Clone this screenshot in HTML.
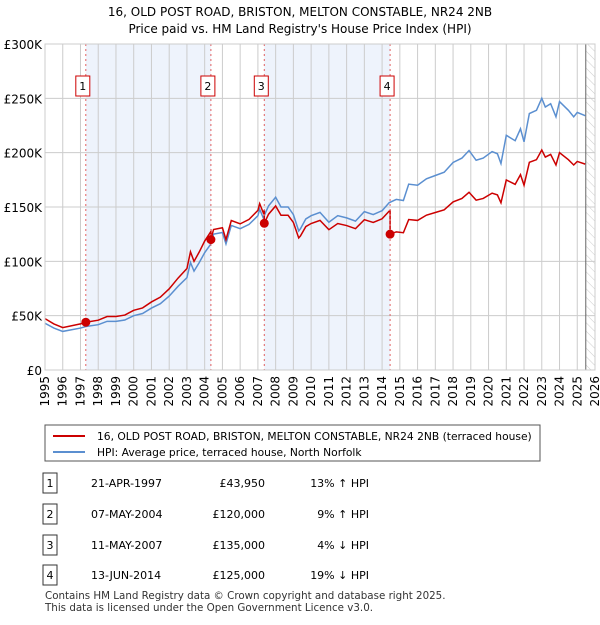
<!DOCTYPE html>
<html><head><meta charset="utf-8"><style>
body{margin:0;background:#fff;font-family:"Liberation Sans","DejaVu Sans",sans-serif;}
svg text{font-family:"DejaVu Sans","Liberation Sans",sans-serif;}
</style></head><body>
<svg width="600" height="620" xmlns="http://www.w3.org/2000/svg" id="chart">
<defs><pattern id="hatch" width="6" height="6" patternUnits="userSpaceOnUse" patternTransform="rotate(-45)"><line x1="0" y1="0" x2="0" y2="6" stroke="#ccc" stroke-width="1"/></pattern></defs>
<text x="300" y="16" text-anchor="middle" font-size="12">16, OLD POST ROAD, BRISTON, MELTON CONSTABLE, NR24 2NB</text>
<text x="300" y="33" text-anchor="middle" font-size="12">Price paid vs. HM Land Registry's House Price Index (HPI)</text>
<g id="plot"></g>
<g>
<rect x="45" y="425" width="495" height="36" fill="#fff" stroke="#555"/>
<line x1="53" y1="436" x2="85" y2="436" stroke="#cc0000" stroke-width="2"/>
<text x="97" y="440" font-size="10.7">16, OLD POST ROAD, BRISTON, MELTON CONSTABLE, NR24 2NB (terraced house)</text>
<line x1="53" y1="452" x2="85" y2="452" stroke="#5b8fd0" stroke-width="2"/>
<text x="97" y="456" font-size="10.7">HPI: Average price, terraced house, North Norfolk</text>
</g>
<g id="table" font-size="11"></g>
<text x="45" y="599" font-size="10.3" fill="#333">Contains HM Land Registry data © Crown copyright and database right 2025.</text>
<text x="45" y="611" font-size="10.3" fill="#333">This data is licensed under the Open Government Licence v3.0.</text>
</svg>
<script>
const hpiYears=[1995,1995.5,1996,1997,1997.3,1998,1998.5,1999,1999.5,2000,2000.5,2001,2001.5,2002,2002.5,2003,2003.2,2003.4,2003.7,2004,2004.35,2004.5,2005,2005.2,2005.5,2006,2006.5,2007,2007.1,2007.3,2007.6,2008,2008.3,2008.7,2009,2009.3,2009.4,2009.7,2010,2010.5,2011,2011.5,2012,2012.5,2013,2013.5,2014,2014.4,2014.8,2015.2,2015.5,2016,2016.5,2017,2017.5,2018,2018.5,2018.9,2019.3,2019.7,2020.2,2020.5,2020.7,2021,2021.5,2021.8,2022,2022.3,2022.7,2023,2023.2,2023.5,2023.8,2024,2024.5,2024.8,2025,2025.45];
const hpiValues=[43,38.6,35.5,38.6,40,41.7,44.8,44.8,46,50,52,57,61,68,77,85,99,91,99,108,116,125,126.5,116,133,130,134,142,148,140,151,159,150,150,143,128,130,139,142,145,136,142,140,137,145.7,143,146.6,154,157,156,171,170,176,179,182,191,195,202,193,195,201,199,190,216,211,222,210,236,239,250,242,245,233,247,239,233,237,234];
const saleLabels=["1","2","3","4"];
const saleYears=[1997.30,2004.35,2007.36,2014.45];
const salePrices=[43950,120000,135000,125000];
const saleDates=["21-APR-1997","07-MAY-2004","11-MAY-2007","13-JUN-2014"];
const saleDiffs=["13% \u2191 HPI","9% \u2191 HPI","4% \u2193 HPI","19% \u2193 HPI"];
const yTicks=[0,50,100,150,200,250,300];
const yTickLabels=["£0","£50K","£100K","£150K","£200K","£250K","£300K"];
const xTicks=[];for(let y=1995;y<=2026;y++)xTicks.push(y);
const dataEnd=2025.48;
const X0=45,X1=595,Y0=370,Y1=44;
const xs=y=>X0+(y-1995)/(2026-1995)*(X1-X0);
const ys=v=>Y0-v/300*(Y0-Y1);
const NS="http://www.w3.org/2000/svg";
const plot=document.getElementById('plot');
function mk(tag,attrs,parent){const e=document.createElementNS(NS,tag);for(const k in attrs)e.setAttribute(k,attrs[k]);(parent||plot).appendChild(e);return e;}
function interp(y){for(let i=0;i<hpiYears.length-1;i++){if(y>=hpiYears[i]&&y<=hpiYears[i+1]){const t=(y-hpiYears[i])/(hpiYears[i+1]-hpiYears[i]);return hpiValues[i]+t*(hpiValues[i+1]-hpiValues[i]);}}return hpiValues[hpiValues.length-1];}
for(let i=0;i<saleYears.length;i+=2){const r=mk('rect',{x:xs(saleYears[i]),y:Y1,width:xs(saleYears[i+1])-xs(saleYears[i]),height:Y0-Y1,fill:'#eef3fc'});

}
const hr=mk('rect',{x:xs(dataEnd),y:Y1,width:X1-xs(dataEnd),height:Y0-Y1,fill:'url(#hatch)'});


xTicks.forEach(t=>{const l=mk('line',{x1:xs(t),x2:xs(t),y1:Y1,y2:Y0,stroke:'#ccc'});


const tx=mk('text',{x:0,y:0,'font-size':12,'text-anchor':'end',transform:`translate(${xs(t)+4},${Y0+6}) rotate(-90)`});tx.textContent=t;

});
yTicks.forEach((t,i)=>{const l=mk('line',{x1:X0,x2:X1,y1:ys(t),y2:ys(t),stroke:'#ccc'});


const tx=mk('text',{x:X0-3,y:ys(t)+5,'font-size':12,'text-anchor':'end'});tx.textContent=yTickLabels[i];

});
const el=mk('line',{x1:xs(dataEnd),x2:xs(dataEnd),y1:Y1,y2:Y0,stroke:'#666'});


const hp=mk('polyline',{points:hpiYears.map((y,i)=>xs(y)+','+ys(hpiValues[i])).join(' '),fill:'none',stroke:'#5b8fd0','stroke-width':1.5});


const ratios=saleYears.map((y,i)=>salePrices[i]/1000/interp(y));
const redPts=[];
const allYears=hpiYears.concat(saleYears).sort((a,b)=>a-b);
allYears.forEach(y=>{let k=0;for(let i=0;i<saleYears.length;i++)if(y>=saleYears[i])k=i;
 if(saleYears.includes(y)&&k>0){redPts.push([y,interp(y)*ratios[k-1]]);}
 redPts.push([y,interp(y)*ratios[k]]);});
const rp=mk('polyline',{points:redPts.map(p=>xs(p[0])+','+ys(p[1])).join(' '),fill:'none',stroke:'#cc0000','stroke-width':1.5});


saleYears.forEach((y,i)=>{const l=mk('line',{x1:xs(y),x2:xs(y),y1:Y1,y2:Y0,stroke:'#e06060','stroke-dasharray':'2,3'});


const c=mk('circle',{cx:xs(y),cy:ys(salePrices[i]/1000),r:4.5,fill:'#cc0000'});


const b=mk('rect',{x:xs(y)-10,y:76,width:14,height:20,fill:'#fff',stroke:'#cc0000'});


const t=mk('text',{x:xs(y)-3,y:90,'font-size':11,'text-anchor':'middle'});t.textContent=saleLabels[i];

});
const ax=mk('rect',{x:X0,y:Y1,width:X1-X0,height:Y0-Y1,fill:'none',stroke:'#ccc'});


const tb=document.getElementById('table');
const rowY=[483,514,545,575];
saleLabels.forEach((s,i)=>{const y=rowY[i];
const b=mk('rect',{x:43,y:y-10,width:14,height:20,fill:'#fff',stroke:'#333'},tb);


const t0=mk('text',{x:50,y:y+4,'text-anchor':'middle'},tb);t0.textContent=s;


const t1=mk('text',{x:91,y:y+4},tb);t1.textContent=saleDates[i];


const t2=mk('text',{x:265,y:y+4,'text-anchor':'end'},tb);t2.textContent='£'+salePrices[i].toLocaleString('en-GB');


const t3=mk('text',{x:369,y:y+4,'text-anchor':'end'},tb);t3.textContent=saleDiffs[i];

});
</script>
</body></html>
